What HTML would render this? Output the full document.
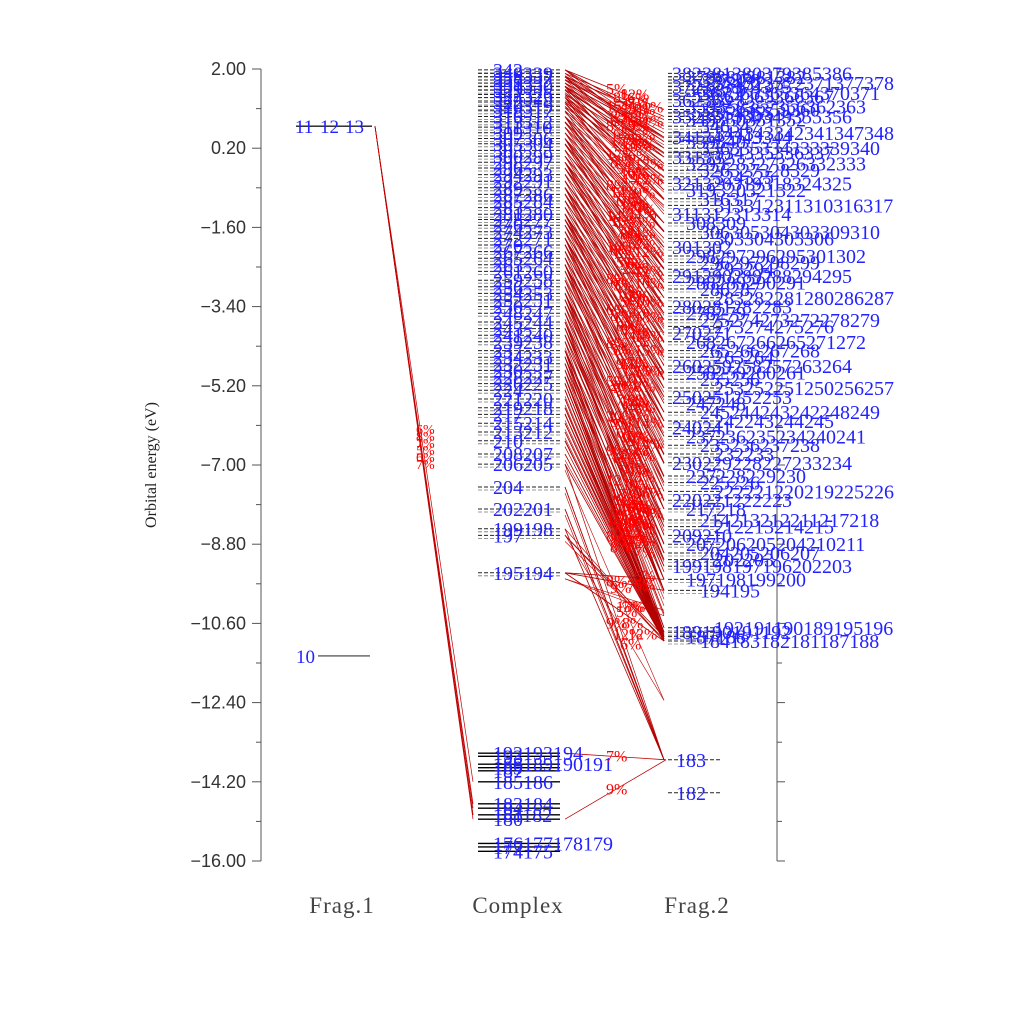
<!DOCTYPE html>
<html><head><meta charset="utf-8"><style>
html,body{margin:0;padding:0;background:#fff;}
svg{display:block;font-family:"Liberation Sans",sans-serif;}
</style></head><body>
<svg id="chart" width="1024" height="1024" viewBox="0 0 1024 1024" xmlns="http://www.w3.org/2000/svg">
<g id="axes"></g>
<g id="lines"></g>
<g id="levels"></g>
<g id="labels"></g>
<text x="156" y="465" transform="rotate(-90 156 465)" text-anchor="middle" font-family="Liberation Serif, serif" font-size="16" fill="#222">Orbital energy (eV)</text>
<text x="342" y="913" text-anchor="middle" font-family="Liberation Serif, serif" font-size="23" fill="#444" letter-spacing="1">Frag.1</text>
<text x="518" y="913" text-anchor="middle" font-family="Liberation Serif, serif" font-size="23" fill="#444" letter-spacing="1">Complex</text>
<text x="697" y="913" text-anchor="middle" font-family="Liberation Serif, serif" font-size="23" fill="#444" letter-spacing="1">Frag.2</text>
</svg>
<script>
const tickValues=[2.00,0.20,-1.60,-3.40,-5.20,-7.00,-8.80,-10.60,-12.40,-14.20,-16.00];
const frag1E=[0.70,0.70,0.70,-11.34];
const frag1Lab=["11","12","13","10"];
const complexUnocc=[1.98,1.90,1.82,1.75,1.68,1.60,1.52,1.42,1.35,1.25,1.15,1.05,0.92,0.80,0.68,0.55,0.42,0.30,0.15,0.02,-0.12,-0.25,-0.40,-0.55,-0.70,-0.85,-1.00,-1.15,-1.30,-1.42,-1.55,-1.70,-1.85,-2.00,-2.15,-2.30,-2.45,-2.60,-2.80,-2.95,-3.10,-3.25,-3.40,-3.55,-3.75,-3.90,-4.05,-4.20,-4.40,-4.55,-4.70,-4.85,-5.00,-5.15,-5.30,-5.50,-5.70,-5.85,-6.05,-6.25,-6.45,-6.75,-6.98,-7.50,-8.00,-8.45,-8.60,-9.45];
const complexOcc=[-13.55,-13.62,-13.80,-13.88,-13.95,-14.20,-14.70,-14.80,-14.95,-15.05,-15.60,-15.68,-15.78];
const complexOccLab=["192193194","193","188189190191","189","187","185186","183184","184","181182","180","176177178179","177","174175"];
const frag2E=[1.90,1.82,1.75,1.68,1.60,1.52,1.45,1.38,1.30,1.15,1.08,1.00,0.92,0.85,0.70,0.55,0.45,0.35,0.20,0.10,0.00,-0.15,-0.30,-0.45,-0.60,-0.75,-0.95,-1.10,-1.30,-1.50,-1.70,-1.85,-2.05,-2.25,-2.40,-2.55,-2.70,-2.85,-3.00,-3.20,-3.40,-3.55,-3.70,-3.85,-4.00,-4.20,-4.40,-4.55,-4.75,-4.90,-5.05,-5.25,-5.45,-5.60,-5.80,-6.00,-6.15,-6.35,-6.55,-6.75,-6.95,-7.25,-7.40,-7.60,-7.80,-8.00,-8.25,-8.40,-8.60,-8.80,-9.00,-9.15,-9.30,-9.60,-9.85,-10.70,-10.80,-10.90,-11.00,-13.70,-14.45];
const connC=[0,0,1,2,2,3,4,5,5,6,7,8,8,9,10,11,12,12,13,14,15,16,16,17,18,19,20,20,21,22,23,24,24,25,26,27,28,28,29,30,31,32,32,33,34,35,36,36,37,38,39,40,40,41,42,43,44,44,45,46,47,48,48,49,50,51,52,52,53,54,55,56,56,57,58,59,60,60,61,62,63,64,65,66,67,67];
const connF=[10,14,12,13,17,15,16,18,21,19,20,22,25,23,24,26,27,30,29,30,31,32,35,34,35,36,37,40,39,40,41,42,45,44,45,46,47,50,49,50,51,52,55,54,55,56,57,60,59,60,61,62,65,64,65,66,67,70,69,70,71,72,74,73,74,74,75,77,76,77,78,78,78,76,77,78,78,78,78,78,79,79,79,77,73,74];
const connF2=[16,18,17,20,21,20,22,24,26,25,26,28,30,29,30,32,33,35,34,36,37,38,40,39,41,42,43,45,44,46,47,48,50,49,51,52,53,55,54,56,57,58,60,59,61,62,63,65,64,66,67,68,70,69,71,72,73,74,73,74,75,76,77,76,77,78,78,78,77,78,78,77,78,78,78,77,78,78,78,79,79,79,78,78,78,78];
const connPct=["5%","8%","12%","6%","9%","15%","7%","11%","5%","21%","8%","6%","13%","9%","5%","17%","7%","10%","6%","12%","8%","5%","19%","7%","9%","14%","6%","8%","11%","5%","16%","7%","9%","6%","12%","8%","5%","22%","7%","10%","6%","13%","9%","5%","18%","8%","6%","11%","7%","15%","5%","9%","12%","6%","8%","20%","7%","10%","5%","14%","9%","6%","91%","5%","8%","12%","7%","10%","6%","36%","18%","9%","67%","7%","5%","80%","8%","11%","6%","7%","9%","12%","6%","7%","5%","8%"];
const occConnC=[0,9];
const occConnF=[79,79];
const occPct=["7%","9%"];
const f1ConnC=[5,6,7,8,9,8];
const f1Pct=["6%","8%","7%","5%","6%","7%"];

const NS="http://www.w3.org/2000/svg";
const yOf=e=>69+(2-e)*44;
const LF="Liberation Serif, serif";
function mk(tag,attrs,parent,txt){const el=document.createElementNS(NS,tag);for(const k in attrs)el.setAttribute(k,attrs[k]);if(txt!==undefined)el.textContent=txt;parent.appendChild(el);return el;}
const axes=document.getElementById('axes'),lines=document.getElementById('lines'),levels=document.getElementById('levels'),labels=document.getElementById('labels');

let a=mk('line',{x1:261,y1:69,x2:261,y2:861,stroke:'#555','stroke-width':1},axes);

a=mk('line',{x1:777,y1:69,x2:777,y2:861,stroke:'#555','stroke-width':1},axes);

tickValues.forEach((v,i)=>{
  const y=yOf(v);
  let t=mk('line',{x1:252,y1:y,x2:261,y2:y,stroke:'#555'},axes);
  
  t=mk('line',{x1:777,y1:y,x2:785,y2:y,stroke:'#555'},axes);
  
  if(i<tickValues.length-1){const ym=yOf(v-0.9);
    t=mk('line',{x1:256,y1:ym,x2:261,y2:ym,stroke:'#555'},axes);
    
    t=mk('line',{x1:777,y1:ym,x2:782,y2:ym,stroke:'#555'},axes);
    }
  const lb=mk('text',{x:246,y:y+6,'text-anchor':'end','font-size':18,fill:'#333'},axes,(v<0?'\u2212':'')+Math.abs(v).toFixed(2));
  
});

frag1E.forEach((e,i)=>{const y=yOf(e);
  if(i===3){const l=mk('line',{x1:318,y1:y,x2:370,y2:y,stroke:'#000','stroke-width':0.8},levels);
    
    const t=mk('text',{x:296,y:y+7,'font-size':19,'font-family':LF,fill:'#22f'},labels,frag1Lab[i]);
    }
  else{const l=mk('line',{x1:296,y1:y,x2:372,y2:y,stroke:'#000','stroke-width':0.8},levels);
    
    const t=mk('text',{x:295+i*25,y:y+7,'font-size':19,'font-family':LF,fill:'#22f'},labels,frag1Lab[i]);
    }
});
complexUnocc.forEach((e,i)=>{const y=yOf(e);
  let l=mk('line',{x1:478,y1:y,x2:560,y2:y,stroke:'#222','stroke-width':1,'stroke-dasharray':'4 2'},levels);
  
  l=mk('line',{x1:478,y1:y+3,x2:560,y2:y+3,stroke:'#777','stroke-width':0.8,'stroke-dasharray':'4 2'},levels);
  
  const n=342-Math.round(i*147/(complexUnocc.length-1));
  const txt=(i%3===0)?String(n):String(n)+String(n-1);
  const t=mk('text',{x:493,y:y+7,'font-size':20,'font-family':LF,fill:'#22f'},labels,txt);
  
});
complexOcc.forEach((e,i)=>{const y=yOf(e);
  const l=mk('line',{x1:478,y1:y,x2:560,y2:y,stroke:'#000','stroke-width':1.4},levels);
  
  const t=mk('text',{x:493,y:y+7,'font-size':20,'font-family':LF,fill:'#22f'},labels,complexOccLab[i]);
  
});
frag2E.forEach((e,i)=>{const y=yOf(e);
  const last=i>=frag2E.length-2;
  let l=mk('line',{x1:668,y1:y,x2:720,y2:y,stroke:'#222','stroke-width':1,'stroke-dasharray':'4 2'},levels);
  
  if(!last){l=mk('line',{x1:668,y1:y+3,x2:720,y2:y+3,stroke:'#888','stroke-width':0.8,'stroke-dasharray':'4 2'},levels);
  }
  const n=last?(i===frag2E.length-2?183:182):382-Math.round(i*(382-184)/(frag2E.length-3));
  let txt;
  if(last)txt=String(n);
  else if(i%3===0)txt=String(n)+String(n-1)+String(n-2)+String(n-3)+String(n+3)+String(n+4);
  else if(i%3===1)txt=String(n)+String(n+1)+String(n+2)+String(n+3);
  else txt=String(n)+String(n+1);
  const t=mk('text',{x:last?676:672+(i%4)*14,y:y+7,'font-size':20,'font-family':LF,fill:'#22f'},labels,txt);
  
});
const nC=Math.min(connC.length,connF.length,connF2.length);
for(let k=0;k<nC;k++){
  const y1=yOf(complexUnocc[connC[k]]),y2=yOf(frag2E[connF[k]]),y3=yOf(frag2E[connF2[k]]);
  let l=mk('line',{x1:565,y1:y1,x2:664,y2:y2,stroke:'#b00000','stroke-width':0.8},lines);
  
  l=mk('line',{x1:565,y1:y1,x2:664,y2:y3,stroke:'#b00000','stroke-width':0.7},lines);
  
  l=mk('line',{x1:565,y1:y1+6,x2:664,y2:(y2+y3)/2,stroke:'#c00000','stroke-width':0.6},lines);
  
  const t=mk('text',{x:606+(k%5)*7,y:(y1+y2)/2+5,'font-size':16,'font-family':LF,fill:'#f00'},labels,connPct[k%connPct.length]);
  
  const t2=mk('text',{x:610+((k+2)%5)*6,y:(y1+y3)/2+5,'font-size':16,'font-family':LF,fill:'#f00'},labels,connPct[(k+7)%connPct.length]);
  
}
occConnC.forEach((c,k)=>{
  const y1=yOf(complexOcc[c]),y2=yOf(frag2E[occConnF[k]]);
  const l=mk('line',{x1:565,y1:y1,x2:666,y2:y2,stroke:'#c00000','stroke-width':0.8},lines);
  
  const t=mk('text',{x:606,y:(y1+y2)/2+5,'font-size':16,'font-family':LF,fill:'#f00'},labels,occPct[k]);
  
});
f1ConnC.forEach((c,k)=>{
  const y1=yOf(frag1E[k%3]),y2=yOf(complexOcc[c]);
  const l=mk('line',{x1:375,y1:y1,x2:473,y2:y2,stroke:'#c00000','stroke-width':0.7},lines);
  
  const t=mk('text',{x:416,y:434+k*7,'font-size':14,'font-family':LF,fill:'#f00'},labels,f1Pct[k]);
  
});
</script>
</body></html>
